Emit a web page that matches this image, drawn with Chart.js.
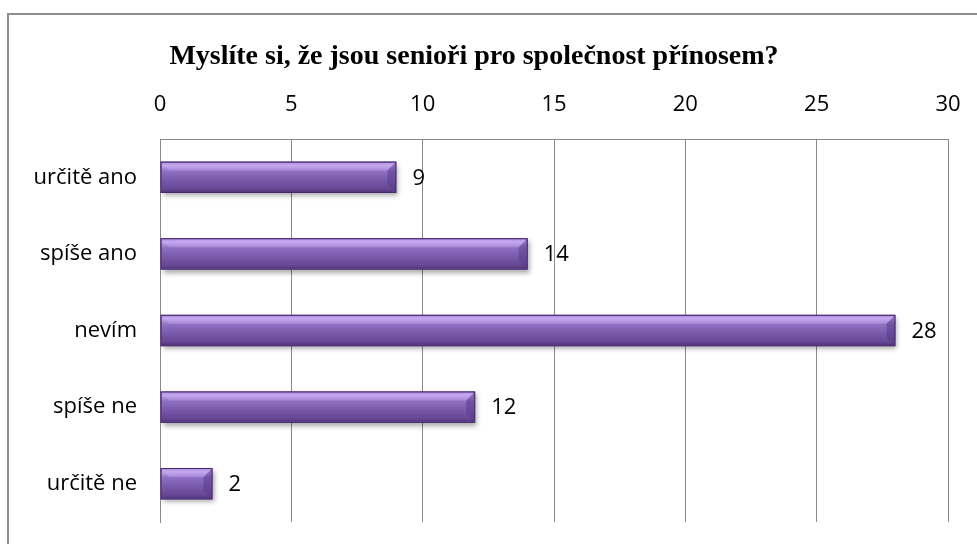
<!DOCTYPE html>
<html>
<head>
<meta charset="utf-8">
<script src="https://cdn.jsdelivr.net/npm/chart.js@4"></script>
<style>
  html, body { margin: 0; padding: 0; background: #fff; overflow: hidden; }
  #frame { position: absolute; left: 7px; top: 13px; width: 1100px; height: 700px; border: 2px solid #8e8e8e; box-sizing: border-box; }
  #chart { position: absolute; left: 0; top: 0; }
</style>
</head>
<body>
<div id="frame"></div>
<canvas id="chart" width="977" height="544"></canvas>
<script>
let categories = ['určitě ano', 'spíše ano', 'nevím', 'spíše ne', 'určitě ne'];
let answer_counts = [9, 14, 28, 12, 2];
let axis_ticks = [0, 5, 10, 15, 20, 25, 30];

let colors = {
    bar: '#7758a6',
    barBorder: '#44296b',
    grid: '#8a8a8a',
    text: '#000000'
}

// glossy shading on each bar, like the office chart
let barShading = {
    id: 'barShading',
    beforeDatasetDraw(chart) {
        let ctx = chart.ctx;
        ctx.save();
        ctx.shadowColor = 'rgba(0,0,0,0.35)';
        ctx.shadowBlur = 5;
        ctx.shadowOffsetX = 2;
        ctx.shadowOffsetY = 3;
    },
    afterDatasetDraw(chart) {
        let ctx = chart.ctx;
        ctx.restore();
        chart.getDatasetMeta(0).data.forEach(bar => {
            let top = bar.y - bar.height / 2;
            let h = bar.height;
            let left = bar.base;
            let w = bar.x - bar.base;
            let g = ctx.createLinearGradient(0, top, 0, top + h);
            g.addColorStop(0, '#9b7cc9');
            g.addColorStop(0.12, '#c4a8f2');
            g.addColorStop(0.3, '#9172c2');
            g.addColorStop(0.6, '#7858a8');
            g.addColorStop(0.85, '#674895');
            g.addColorStop(1, '#4f3378');
            ctx.save();
            ctx.fillStyle = g;
            ctx.fillRect(left + 1, top + 1, w - 2, h - 2);
            // bevel at the ends of the bar
            let b = Math.min(8, w / 3);
            ctx.fillStyle = 'rgba(90,60,140,0.55)';
            ctx.beginPath();
            ctx.moveTo(bar.x - 1, top + 1);
            ctx.lineTo(bar.x - 1 - b, top + 1 + b);
            ctx.lineTo(bar.x - 1 - b, top + h - 1 - b);
            ctx.lineTo(bar.x - 1, top + h - 1);
            ctx.closePath();
            ctx.fill();
            ctx.fillStyle = 'rgba(200,170,240,0.35)';
            ctx.beginPath();
            ctx.moveTo(left + 1, top + 1);
            ctx.lineTo(left + 1 + b, top + 1 + b);
            ctx.lineTo(bar.x - 1 - b, top + 1 + b);
            ctx.lineTo(bar.x - 1, top + 1);
            ctx.closePath();
            ctx.fill();
            ctx.strokeStyle = colors.barBorder;
            ctx.lineWidth = 1;
            ctx.strokeRect(left + 0.5, top + 0.5, w - 1, h - 1);
            ctx.restore();
        });
    }
}

let valueLabels = {
    id: 'valueLabels',
    afterDatasetsDraw(chart) {
        let ctx = chart.ctx;
        ctx.save();
        ctx.font = '22px "Open Sans"';
        ctx.fillStyle = colors.text;
        ctx.textAlign = 'left';
        ctx.textBaseline = 'middle';
        chart.getDatasetMeta(0).data.forEach((bar, i) => {
            ctx.fillText(String(answer_counts[i]), bar.x + 16, bar.y + 1);
        });
        ctx.restore();
    }
}

let data = {
    labels: categories,
    datasets: [
        {
            label: 'Počet',
            data: answer_counts,
            backgroundColor: colors.bar,
            borderColor: colors.barBorder,
            borderWidth: 0,
            barPercentage: 0.41,
            categoryPercentage: 1
        }
    ]
}

let options = {
    indexAxis: 'y',
    responsive: false,
    animation: false,
    layout: {
        padding: { left: 0, right: 29, top: 0, bottom: 22 }
    },
    plugins: {
        legend: { display: false },
        tooltip: { enabled: false },
        title: {
            display: true,
            text: 'Myslíte si, že jsou senioři pro společnost přínosem?',
            color: colors.text,
            font: { family: '"Liberation Serif"', size: 28, weight: 'bold', lineHeight: 1.2 },
            padding: { top: 40, bottom: 15.4 }
        }
    },
    scales: {
        x: {
            position: 'top',
            min: 0,
            max: 30,
            afterBuildTicks: axis => { axis.ticks = axis_ticks.map(v => ({ value: v })); },
            afterFit: axis => {
                axis.height = 50;
                axis.paddingLeft = 0;
                axis.paddingRight = 0;
            },
            grid: { color: colors.grid, lineWidth: 1, drawTicks: false },
            border: { display: true, color: colors.grid, width: 1 },
            ticks: {
                color: colors.text,
                padding: 21,
                font: { family: '"Open Sans"', size: 22 }
            }
        },
        y: {
            afterFit: axis => {
                axis.width = 160;
                axis.paddingTop = 0;
                axis.paddingBottom = 0;
            },
            grid: { display: false, drawTicks: false },
            border: { display: true, color: colors.grid, width: 1 },
            ticks: {
                color: colors.text,
                padding: 23,
                font: { family: '"Open Sans"', size: 22 }
            }
        }
    }
}

window.seniorChart = new Chart(document.getElementById('chart').getContext('2d'), {
    type: 'bar',
    data: data,
    options: options,
    plugins: [barShading, valueLabels]
});
</script>
</body>
</html>
